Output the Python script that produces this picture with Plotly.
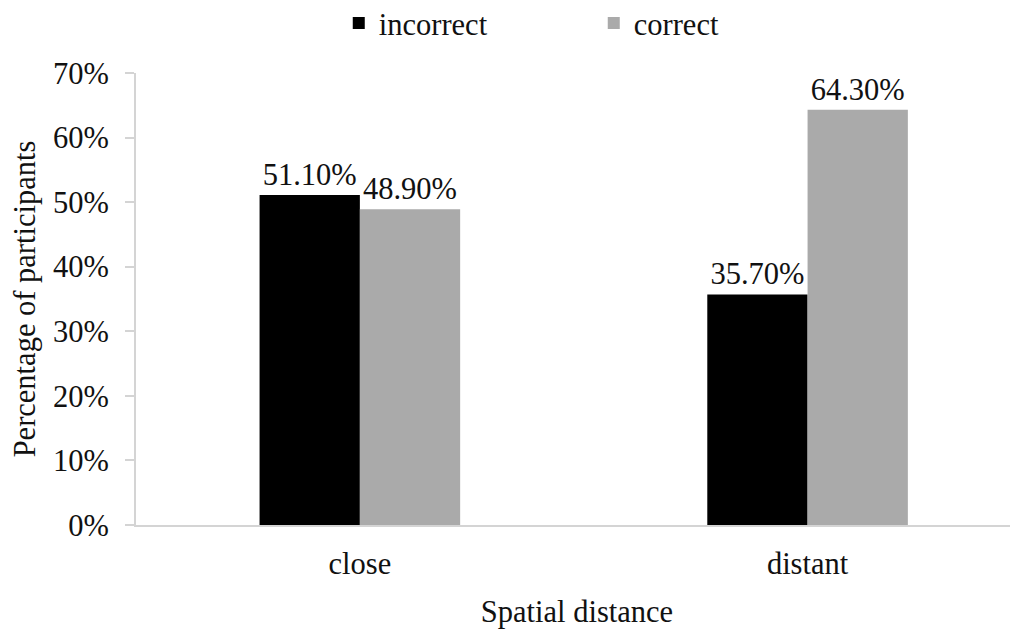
import plotly.graph_objects as go

categories = ["close", "distant"]
incorrect = [51.1, 35.7]
correct = [48.9, 64.3]
series_names = ["incorrect", "correct"]
y_ticks = [0, 10, 20, 30, 40, 50, 60, 70]
y_tick_text = ["0%", "10%", "20%", "30%", "40%", "50%", "60%", "70%"]

FONT = "Times New Roman, Liberation Serif, serif"
FS = 30.5
AX = "#d4d4d4"
TXT = "#111111"

fig = go.Figure()
fig.add_trace(go.Bar(x=categories, y=incorrect, name=series_names[0],
                     marker=dict(color="#000000", line=dict(width=0)),
                     texttemplate="%{y:.2f}%", textposition="outside",
                     constraintext="none",
                     textfont=dict(family=FONT, size=FS, color=TXT), cliponaxis=False))
fig.add_trace(go.Bar(x=categories, y=correct, name=series_names[1],
                     marker=dict(color="#aaaaaa", line=dict(width=0)),
                     texttemplate="%{y:.2f}%", textposition="outside",
                     constraintext="none",
                     textfont=dict(family=FONT, size=FS, color=TXT), cliponaxis=False))

fig.update_layout(
    width=1010, height=622, autosize=False,
    margin=dict(l=128, r=0, t=65, b=105, autoexpand=False),
    paper_bgcolor="white", plot_bgcolor="white",
    font=dict(family=FONT, size=FS, color=TXT),
    barmode="group", bargap=0.552, bargroupgap=0,
    showlegend=True,
    legend=dict(orientation="h", x=0.519, xanchor="center",
                y=1.11, yanchor="middle", font=dict(family=FONT, size=FS, color=TXT),
                entrywidth=210,
                traceorder="normal", bgcolor="rgba(0,0,0,0)"),
)
fig.update_xaxes(
    type="category", range=[-0.5, 1.47],
    showline=True, linecolor=AX, linewidth=2,
    showgrid=False, ticks="outside", ticklen=10, tickcolor="rgba(0,0,0,0)",
    tickfont=dict(family=FONT, size=FS, color=TXT),
    title=dict(text="Spatial distance", font=dict(family=FONT, size=FS, color=TXT), standoff=21),
    zeroline=False, automargin=False,
)
fig.update_yaxes(
    range=[0, 70], tickmode="array", tickvals=y_ticks, ticktext=y_tick_text,
    showline=True, linecolor=AX, linewidth=2,
    showgrid=False, ticks="outside", ticklen=9, tickcolor=AX, tickwidth=2,
    ticklabelstandoff=10,
    tickfont=dict(family=FONT, size=FS, color=TXT),
    title=dict(text="Percentage of participants", font=dict(family=FONT, size=FS, color=TXT), standoff=8),
    zeroline=False, automargin=False,
)

fig.write_html("out.html")
